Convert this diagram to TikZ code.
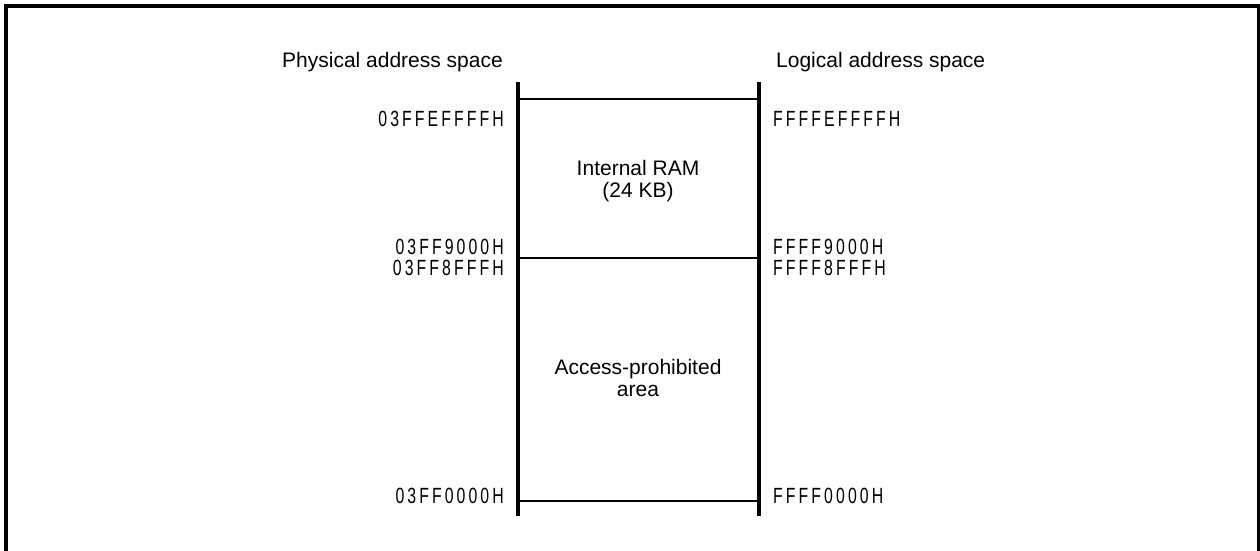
\documentclass[tikz,border=0pt]{standalone}
\usepackage{fontspec}
\setmainfont{Liberation Sans}
\newfontfamily\addrfont[FakeStretch=0.72,LetterSpace=14]{Liberation Sans}
\usetikzlibrary{positioning}

\begin{document}
\begin{tikzpicture}[
	x=1pt, y=-1pt,
	font=\fontsize{21}{22}\selectfont,
	frame/.style={line width=3.6pt},
	bar/.style={line width=3.6pt},
	sep/.style={line width=1.5pt},
	addrl/.style={anchor=east, inner sep=0pt, font=\fontsize{22}{22}\addrfont},
	addrr/.style={anchor=west, inner sep=0pt, font=\fontsize{22}{22}\addrfont},
	ttl/.style={inner sep=0pt},
	area/.style={align=center, inner sep=0pt},
	]
\useasboundingbox (0,0) rectangle (1260,550);
% outer frame, open at the bottom
\draw[frame] (6,560) -- (6,6) -- (1259,6) -- (1259,560);

% titles
\node[ttl, anchor=base east] (phys) at (503,67) {Physical address space};
\node[ttl, anchor=base west] (logi) at (776,67) {Logical address space};

% the two bars
\coordinate (ltop) at (518,82);
\coordinate (lbot) at (518,516);
\coordinate (rtop) at (759,82);
\coordinate (rbot) at (759,516);
\draw[bar] (ltop) -- (lbot);
\draw[bar] (rtop) -- (rbot);

% boundaries
\coordinate (l1) at (518,99);  \coordinate (r1) at (759,99);
\coordinate (l2) at (518,258); \coordinate (r2) at (759,258);
\coordinate (l3) at (518,501); \coordinate (r3) at (759,501);
\draw[sep] (l1) -- (r1);
\draw[sep] (l2) -- (r2);
\draw[sep] (l3) -- (r3);

% areas
\node[area] (ram) at (638,181) {Internal RAM\\(24 KB)};
\node[area] (prohib) at (638,378) {Access-prohibited\\area};

% physical addresses
\node[addrl] (p1) at (504,119) {03FFEFFFFH};
\node[addrl] (p2) at (504,247) {03FF9000H};
\node[addrl] (p3) at (504,268) {03FF8FFFH};
\node[addrl] (p4) at (504,496) {03FF0000H};

% logical addresses
\node[addrr] (q1) at (773,119) {FFFFEFFFFH};
\node[addrr] (q2) at (773,247) {FFFF9000H};
\node[addrr] (q3) at (773,268) {FFFF8FFFH};
\node[addrr] (q4) at (773,496) {FFFF0000H};
\end{tikzpicture}
\end{document}
